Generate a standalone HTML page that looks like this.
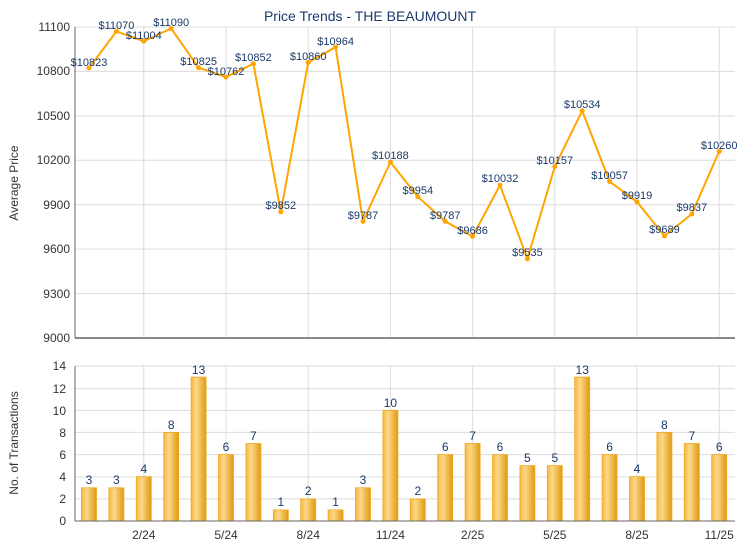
<!DOCTYPE html>
<html><head><meta charset="utf-8"><style>
body{margin:0;background:#fff}
svg{display:block;font-family:"Liberation Sans",sans-serif}
.g{stroke:#dcdcdc;stroke-width:1}
.t{font-size:12px;fill:#333}
.l{font-size:11px;fill:#1a3a6a;text-anchor:middle}
</style></head><body>
<svg width="740" height="550" viewBox="0 0 740 550">
<defs><linearGradient id="bg" x1="0" x2="1"><stop offset="0" stop-color="#f5b840"/><stop offset="0.35" stop-color="#fcd88a"/><stop offset="1" stop-color="#e09a10"/></linearGradient></defs>
<text x="370" y="21" text-anchor="middle" font-size="14" fill="#1a3a6a">Price Trends - THE BEAUMOUNT</text>
<!-- top grid -->
<g class="g">
<line x1="75" x2="735" y1="27" y2="27"/><line x1="75" x2="735" y1="71.4" y2="71.4"/><line x1="75" x2="735" y1="115.9" y2="115.9"/><line x1="75" x2="735" y1="160.3" y2="160.3"/><line x1="75" x2="735" y1="204.7" y2="204.7"/><line x1="75" x2="735" y1="249.1" y2="249.1"/><line x1="75" x2="735" y1="293.6" y2="293.6"/>
<line x1="143.8" x2="143.8" y1="27" y2="338"/><line x1="226" x2="226" y1="27" y2="338"/><line x1="308.2" x2="308.2" y1="27" y2="338"/><line x1="390.4" x2="390.4" y1="27" y2="338"/><line x1="472.6" x2="472.6" y1="27" y2="338"/><line x1="554.8" x2="554.8" y1="27" y2="338"/><line x1="637" x2="637" y1="27" y2="338"/><line x1="719.2" x2="719.2" y1="27" y2="338"/>
</g>
<line x1="75" x2="75" y1="27" y2="338" stroke="#666"/><line x1="75" x2="735" y1="338" y2="338" stroke="#888" stroke-width="2"/>
<g class="t" text-anchor="end">
<text x="70" y="31">11100</text><text x="70" y="75">10800</text><text x="70" y="120">10500</text><text x="70" y="164">10200</text><text x="70" y="209">9900</text><text x="70" y="253">9600</text><text x="70" y="298">9300</text><text x="70" y="342">9000</text>
</g>
<text transform="translate(18,183) rotate(-90)" text-anchor="middle" font-size="12" fill="#333">Average Price</text>
<polyline fill="none" stroke="#ffa500" stroke-width="2" points="89,68 116.4,31.4 143.8,41.2 171.2,28.5 198.6,67.7 226,77 253.4,63.7 280.8,211.8 308.2,62.5 335.6,47.1 363,221.4 390.4,162.1 417.8,196.7 445.2,221.4 472.6,236.4 500,185.2 527.4,258.8 554.8,166.6 582.2,110.8 609.6,181.5 637,201.9 664.4,236 691.8,214 719.2,151.4"/>
<g fill="#ffa500">
<circle cx="89" cy="68" r="2.5"/><circle cx="116.4" cy="31.4" r="2.5"/><circle cx="143.8" cy="41.2" r="2.5"/><circle cx="171.2" cy="28.5" r="2.5"/><circle cx="198.6" cy="67.7" r="2.5"/><circle cx="226" cy="77" r="2.5"/><circle cx="253.4" cy="63.7" r="2.5"/><circle cx="280.8" cy="211.8" r="2.5"/><circle cx="308.2" cy="62.5" r="2.5"/><circle cx="335.6" cy="47.1" r="2.5"/><circle cx="363" cy="221.4" r="2.5"/><circle cx="390.4" cy="162.1" r="2.5"/><circle cx="417.8" cy="196.7" r="2.5"/><circle cx="445.2" cy="221.4" r="2.5"/><circle cx="472.6" cy="236.4" r="2.5"/><circle cx="500" cy="185.2" r="2.5"/><circle cx="527.4" cy="258.8" r="2.5"/><circle cx="554.8" cy="166.6" r="2.5"/><circle cx="582.2" cy="110.8" r="2.5"/><circle cx="609.6" cy="181.5" r="2.5"/><circle cx="637" cy="201.9" r="2.5"/><circle cx="664.4" cy="236" r="2.5"/><circle cx="691.8" cy="214" r="2.5"/><circle cx="719.2" cy="151.4" r="2.5"/>
</g>
<g class="l">
<text x="89" y="66">$10823</text><text x="116.4" y="29">$11070</text><text x="143.8" y="39">$11004</text><text x="171.2" y="26">$11090</text><text x="198.6" y="65">$10825</text><text x="226" y="75">$10762</text><text x="253.4" y="61">$10852</text><text x="280.8" y="209">$9852</text><text x="308.2" y="60">$10860</text><text x="335.6" y="45">$10964</text><text x="363" y="219">$9787</text><text x="390.4" y="159">$10188</text><text x="417.8" y="194">$9954</text><text x="445.2" y="219">$9787</text><text x="472.6" y="234">$9686</text><text x="500" y="182">$10032</text><text x="527.4" y="256">$9535</text><text x="554.8" y="164">$10157</text><text x="582.2" y="108">$10534</text><text x="609.6" y="179">$10057</text><text x="637" y="199">$9919</text><text x="664.4" y="233">$9689</text><text x="691.8" y="211">$9837</text><text x="719.2" y="149">$10260</text>
</g>
<!-- bottom -->
<g class="g">
<line x1="75" x2="735" y1="366" y2="366"/><line x1="75" x2="735" y1="388.6" y2="388.6"/><line x1="75" x2="735" y1="410.4" y2="410.4"/><line x1="75" x2="735" y1="432.4" y2="432.4"/><line x1="75" x2="735" y1="454.6" y2="454.6"/><line x1="75" x2="735" y1="476.9" y2="476.9"/><line x1="75" x2="735" y1="498.9" y2="498.9"/>
<line x1="143.8" x2="143.8" y1="366" y2="521"/><line x1="226" x2="226" y1="366" y2="521"/><line x1="308.2" x2="308.2" y1="366" y2="521"/><line x1="390.4" x2="390.4" y1="366" y2="521"/><line x1="472.6" x2="472.6" y1="366" y2="521"/><line x1="554.8" x2="554.8" y1="366" y2="521"/><line x1="637" x2="637" y1="366" y2="521"/><line x1="719.2" x2="719.2" y1="366" y2="521"/>
</g>
<g class="t" text-anchor="end">
<text x="66" y="370">14</text><text x="66" y="393">12</text><text x="66" y="415">10</text><text x="66" y="437">8</text><text x="66" y="459">6</text><text x="66" y="481">4</text><text x="66" y="503">2</text><text x="66" y="525">0</text>
</g>
<text transform="translate(18,443) rotate(-90)" text-anchor="middle" font-size="12" fill="#333">No. of Transactions</text>
<g fill="url(#bg)" stroke="#f0a820" stroke-width="0.8">
<rect x="81.5" y="487.8" width="15" height="33.2"/><rect x="108.9" y="487.8" width="15" height="33.2"/><rect x="136.3" y="476.7" width="15" height="44.3"/><rect x="163.7" y="432.4" width="15" height="88.6"/><rect x="191.1" y="377.1" width="15" height="143.9"/><rect x="218.5" y="454.6" width="15" height="66.4"/><rect x="245.9" y="443.5" width="15" height="77.5"/><rect x="273.3" y="509.9" width="15" height="11.1"/><rect x="300.7" y="498.9" width="15" height="22.1"/><rect x="328.1" y="509.9" width="15" height="11.1"/><rect x="355.5" y="487.8" width="15" height="33.2"/><rect x="382.9" y="410.3" width="15" height="110.7"/><rect x="410.3" y="498.9" width="15" height="22.1"/><rect x="437.7" y="454.6" width="15" height="66.4"/><rect x="465.1" y="443.5" width="15" height="77.5"/><rect x="492.5" y="454.6" width="15" height="66.4"/><rect x="519.9" y="465.6" width="15" height="55.4"/><rect x="547.3" y="465.6" width="15" height="55.4"/><rect x="574.7" y="377.1" width="15" height="143.9"/><rect x="602.1" y="454.6" width="15" height="66.4"/><rect x="629.5" y="476.7" width="15" height="44.3"/><rect x="656.9" y="432.4" width="15" height="88.6"/><rect x="684.3" y="443.5" width="15" height="77.5"/><rect x="711.7" y="454.6" width="15" height="66.4"/>
</g>
<line x1="75" x2="75" y1="366" y2="521" stroke="#666"/><line x1="75" x2="735" y1="521" y2="521" stroke="#666"/>
<g class="l" font-size="12" style="font-size:12px">
<text x="89" y="484">3</text><text x="116.4" y="484">3</text><text x="143.8" y="473">4</text><text x="171.2" y="429">8</text><text x="198.6" y="374">13</text><text x="226" y="451">6</text><text x="253.4" y="440">7</text><text x="280.8" y="506">1</text><text x="308.2" y="495">2</text><text x="335.6" y="506">1</text><text x="363" y="484">3</text><text x="390.4" y="407">10</text><text x="417.8" y="495">2</text><text x="445.2" y="451">6</text><text x="472.6" y="440">7</text><text x="500" y="451">6</text><text x="527.4" y="462">5</text><text x="554.8" y="462">5</text><text x="582.2" y="374">13</text><text x="609.6" y="451">6</text><text x="637" y="473">4</text><text x="664.4" y="429">8</text><text x="691.8" y="440">7</text><text x="719.2" y="451">6</text>
</g>
<g class="t" text-anchor="middle">
<text x="143.8" y="539">2/24</text><text x="226" y="539">5/24</text><text x="308.2" y="539">8/24</text><text x="390.4" y="539">11/24</text><text x="472.6" y="539">2/25</text><text x="554.8" y="539">5/25</text><text x="637" y="539">8/25</text><text x="719.2" y="539">11/25</text>
</g>
</svg>
</body></html>
